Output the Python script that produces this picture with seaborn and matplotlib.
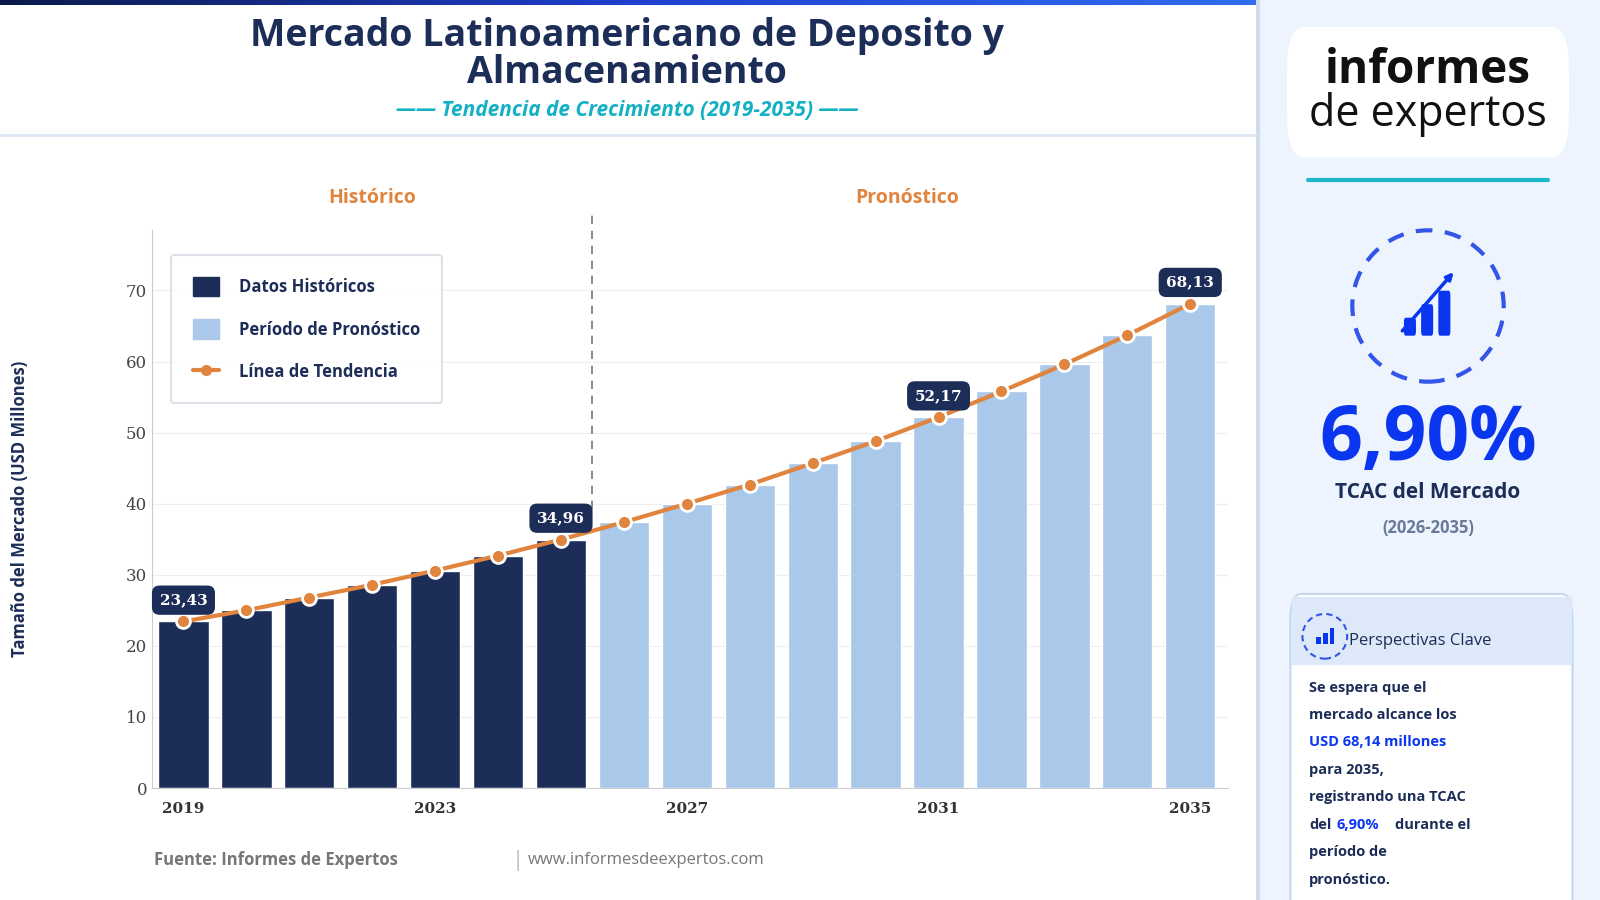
import numpy as np
import pandas as pd
import matplotlib.pyplot as plt
import matplotlib.patches as mpatches
from matplotlib.lines import Line2D
import seaborn as sns

years = list(range(2019, 2036))
values = [23.43, 25.0, 26.8, 28.6, 30.6, 32.7, 34.96, 37.4, 40.0, 42.7, 45.7,
          48.8, 52.17, 55.8, 59.6, 63.7, 68.13]
periods = ['Histórico'] * 7 + ['Pronóstico'] * 10
tick_years = [2019, 2023, 2027, 2031, 2035]
callout_years = [2019, 2025, 2031, 2035]

NAVY = '#1c2d57'
LIGHT = '#a9c8ea'
ORANGE = '#e0843e'
BLUE = '#0a36f0'

sns.set_style('white')
plt.rcParams['font.family'] = ['Open Sans', 'DejaVu Sans']

df = pd.DataFrame({'year': years, 'value': values, 'period': periods})
df['idx'] = range(len(df))

fig = plt.figure(figsize=(16, 9), dpi=100)
fig.patch.set_facecolor('white')

# top gradient strip
strip = fig.add_axes([0, 0.994, 0.785, 0.006])
strip.imshow(np.linspace(0, 1, 256)[None, :], aspect='auto',
             cmap=plt.matplotlib.colors.LinearSegmentedColormap.from_list('g', ['#0b1a4a', '#1f3fcf', '#2f6cf0']))
strip.axis('off')

# right panel
panel = fig.add_axes([0.785, 0, 0.215, 1])
panel.set_xlim(0, 1); panel.set_ylim(0, 1); panel.axis('off')
ASP = 344 / 900  # y-units per x-unit for circles


def circ(x, y, r, **kw):
    return mpatches.Ellipse((x, y), 2 * r, 2 * r * ASP, **kw)


panel.add_patch(mpatches.Rectangle((0, 0), 1, 1, color='#eef4fd'))
panel.axvline(0.005, color='#cfdcf0', lw=3)
panel.add_patch(mpatches.FancyBboxPatch((0.09, 0.825), 0.82, 0.145, boxstyle='round,pad=0,rounding_size=0.05',
                                        fc='white', ec='none'))
panel.text(0.5, 0.922, 'informes', ha='center', va='center', fontsize=33, fontweight='bold', color='#111111')
panel.text(0.5, 0.873, 'de expertos', ha='center', va='center', fontsize=31, color='#111111')
panel.plot([0.15, 0.85], [0.8, 0.8], color='#1bb8c9', lw=3)
panel.add_patch(circ(0.5, 0.66, 0.22, fill=False, ec='#3355e8', lw=3, ls=(0, (4, 3))))
for i, h in enumerate([0.02, 0.035, 0.05]):
    panel.add_patch(mpatches.FancyBboxPatch((0.43 + i * 0.05, 0.627), 0.035, h,
                                            boxstyle='round,pad=0,rounding_size=0.005', fc=BLUE, ec='none'))
panel.annotate('', xy=(0.58, 0.7), xytext=(0.42, 0.63),
               arrowprops=dict(arrowstyle='-|>', color=BLUE, lw=2.5))
panel.text(0.5, 0.51, '6,90%', ha='center', va='center', fontsize=54, fontweight='bold', color=BLUE)
panel.text(0.5, 0.453, 'TCAC del Mercado', ha='center', va='center', fontsize=15, fontweight='bold', color='#1c2d57')
panel.text(0.5, 0.413, '(2026-2035)', ha='center', va='center', fontsize=12, fontweight='bold', color='#6a7a99')
panel.add_patch(mpatches.FancyBboxPatch((0.1, -0.05), 0.82, 0.39, boxstyle='round,pad=0,rounding_size=0.03',
                                        fc='white', ec='#c5d6ee', lw=1.5))
panel.add_patch(mpatches.Rectangle((0.105, 0.262), 0.81, 0.075, color='#dde9f8'))
panel.add_patch(circ(0.2, 0.293, 0.065, fill=False, ec='#3355e8', lw=1.5, ls=(0, (3, 2))))
for i, h in enumerate([0.008, 0.013, 0.018]):
    panel.add_patch(mpatches.Rectangle((0.175 + i * 0.02, 0.284), 0.013, h, fc=BLUE, ec='none'))
panel.text(0.27, 0.288, 'Perspectivas Clave', va='center', fontsize=12, color='#1c2d57')
lines = [('Se espera que el', NAVY), ('mercado alcance los', NAVY), ('USD 68,14 millones', BLUE),
         ('para 2035,', NAVY), ('registrando una TCAC', NAVY), (None, None),
         ('período de', NAVY), ('pronóstico.', NAVY)]
for i, (t, c) in enumerate(lines):
    y = 0.236 - i * 0.0305
    if t is None:
        panel.text(0.155, y, 'del', va='center', fontsize=10.5, fontweight='bold', color=NAVY)
        panel.text(0.235, y, '6,90%', va='center', fontsize=10.5, fontweight='bold', color=BLUE)
        panel.text(0.405, y, 'durante el', va='center', fontsize=10.5, fontweight='bold', color=NAVY)
    else:
        panel.text(0.155, y, t, va='center', fontsize=10.5, fontweight='bold', color=c)

# title
fig.text(0.392, 0.96, 'Mercado Latinoamericano de Deposito y', ha='center', va='center',
         fontsize=27, fontweight='bold', color=NAVY)
fig.text(0.392, 0.919, 'Almacenamiento', ha='center', va='center', fontsize=27, fontweight='bold', color=NAVY)
fig.text(0.392, 0.877, '—— Tendencia de Crecimiento (2019-2035) ——', ha='center', va='center',
         fontsize=15, fontweight='bold', style='italic', color='#14b0c4')
fig.add_artist(Line2D([0, 0.785], [0.85, 0.85], color='#dde6f2', lw=2))

# main chart
ax = fig.add_axes([0.095, 0.1244, 0.6725, 0.62])
sns.barplot(data=df, x='idx', y='value', hue='period', palette={'Histórico': NAVY, 'Pronóstico': LIGHT},
            dodge=False, width=0.8, ax=ax, legend=False, saturation=1)
sns.lineplot(data=df, x='idx', y='value', color=ORANGE, lw=3, marker='o', markersize=10,
             markeredgecolor='white', markeredgewidth=2, ax=ax, zorder=5)
ax.set_xlim(-0.5, len(years) - 0.4)
ax.set_ylim(0, 78.5)
ax.set_yticks(range(0, 80, 10))
ax.yaxis.grid(True, color='#eeeeee')
ax.set_axisbelow(True)
ax.set_xticks([years.index(y) for y in tick_years])
ax.set_xticklabels(tick_years, fontfamily='DejaVu Serif', fontsize=11, fontweight='bold', color='#333333')
ax.tick_params(axis='y', labelsize=12, colors='#444444', length=0)
for lab in ax.get_yticklabels():
    lab.set_fontfamily('DejaVu Serif')
ax.tick_params(axis='x', length=0, pad=10)
ax.set_xlabel('')
ax.set_ylabel('Tamaño del Mercado (USD Millones)', fontsize=12, fontweight='bold', color=NAVY, labelpad=70)
for s in ['top', 'right']:
    ax.spines[s].set_visible(False)
ax.spines['left'].set_color('#cccccc')
ax.spines['bottom'].set_color('#cccccc')
ax.axvline(6.5, color='#777777', ls=(0, (5, 4)), lw=1.2, ymin=0.5, ymax=1.03, clip_on=False)
ax.text(3, 83, 'Histórico', ha='center', va='center', fontsize=14, fontweight='bold', color=ORANGE)
ax.text(11.5, 83, 'Pronóstico', ha='center', va='center', fontsize=14, fontweight='bold', color=ORANGE)
for y in callout_years:
    i = years.index(y)
    v = values[i]
    ax.text(i, v + 3, f'{v:.2f}'.replace('.', ','), ha='center', va='center', fontsize=11,
            fontweight='bold', color='white', fontfamily='DejaVu Serif', zorder=6,
            bbox=dict(boxstyle='round,pad=0.5', fc=NAVY, ec='none'))

handles = [mpatches.Patch(color=NAVY, label='Datos Históricos'),
           mpatches.Patch(color=LIGHT, label='Período de Pronóstico'),
           Line2D([0], [0], color=ORANGE, lw=3, marker='o', markersize=7, label='Línea de Tendencia')]
leg = ax.legend(handles=handles, loc='upper left', bbox_to_anchor=(0.01, 0.97), frameon=True,
                fontsize=12, labelspacing=1.4, borderpad=1.3, handlelength=1.6, handletextpad=1.2,
                handleheight=1.4)
leg.get_frame().set_edgecolor('#d5dbe5')
leg.get_frame().set_linewidth(1.5)
for t in leg.get_texts():
    t.set_color(NAVY)
    t.set_fontweight('bold')
# widen legend box to match reference
fig.canvas.draw()
bb = leg.get_frame().get_bbox()
leg.get_frame().set_width(bb.width * 1.25)

fig.text(0.096, 0.044, 'Fuente: Informes de Expertos', fontsize=12, fontweight='bold', color='#777777', va='center')
fig.text(0.32, 0.044, '|', fontsize=16, color='#bbbbbb', va='center')
fig.text(0.33, 0.044, 'www.informesdeexpertos.com', fontsize=12, color='#777777', va='center')

fig.savefig('out.png', dpi=100)
